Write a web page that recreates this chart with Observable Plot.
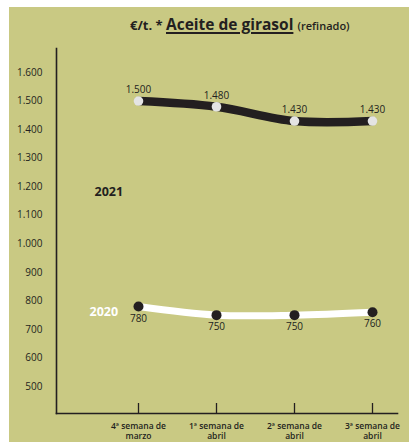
<!DOCTYPE html>
<html>
<head>
<meta charset="utf-8">
<script src="https://cdn.jsdelivr.net/npm/d3@7"></script>
<script src="https://cdn.jsdelivr.net/npm/@observablehq/plot@0.6"></script>
<style>
  html, body { margin: 0; padding: 0; background: #ffffff; }
  #wrap { position: relative; width: 409px; height: 442px; overflow: hidden; background: #ffffff; font-family: "Open Sans", sans-serif; }
  #bg { position: absolute; left: 9px; top: 7px; right: 0; bottom: 0; background: #c9c983; }
  #chart { position: absolute; left: 0; top: 0; }
  #title { position: absolute; left: 130px; top: 13px; white-space: nowrap; color: #231f20; font-weight: 700; }
  #title .a { font-size: 13px; }
  #title .b { font-size: 15.5px; text-decoration: underline; text-decoration-thickness: 1.5px; text-underline-offset: 2px; }
  #title .c { font-size: 11px; font-weight: 600; }
</style>
</head>
<body>
<div id="wrap">
  <div id="bg"></div>
  <div id="title"><span class="a">€/t. * </span><span class="b">Aceite de girasol</span> <span class="c">(refinado)</span></div>
  <div id="chart"></div>
</div>
<script>
const weeks = ["4ª semana de\nmarzo", "1ª semana de\nabril", "2ª semana de\nabril", "3ª semana de\nabril"];
const years = ["2021", "2020"];
const values2021 = [1500, 1480, 1430, 1430];
const values2020 = [780, 750, 750, 760];
const yTicks = [500, 600, 700, 800, 900, 1000, 1100, 1200, 1300, 1400, 1500, 1600];

const loc = d3.formatLocale({decimal: ",", thousands: ".", grouping: [3], currency: ["", "€"]});
const fmt = loc.format(",d");

const d21 = weeks.map((w, i) => ({week: w, value: values2021[i], year: years[0]}));
const d20 = weeks.map((w, i) => ({week: w, value: values2020[i], year: years[1]}));

const ink = "#231f20";

const chart = Plot.plot({
  width: 409,
  height: 442,
  marginTop: 48,
  marginBottom: 29,
  marginLeft: 56,
  marginRight: 12,
  style: {background: "transparent", fontFamily: "'Open Sans', sans-serif", overflow: "visible"},
  x: {type: "point", domain: weeks, range: [137, 372], padding: 0},
  y: {domain: [500, 1600], range: [386, 72]},
  marks: [
    Plot.frame({anchor: "left", stroke: ink, strokeWidth: 1.6}),
    Plot.frame({anchor: "bottom", stroke: ink, strokeWidth: 1.6}),
    Plot.tickX(weeks, {x: d => d, stroke: ink, strokeWidth: 1.3, insetTop: 355}),
    Plot.axisX({tickSize: 0, tickPadding: 8, fontSize: 8.5, fontWeight: 600, fill: ink, lineHeight: 1.2, label: null}),
    Plot.axisY({ticks: yTicks, tickSize: 0, tickPadding: 14, tickFormat: fmt, fontSize: 10, fill: ink, label: null}),
    Plot.line(d21, {x: "week", y: "value", stroke: ink, strokeWidth: 8.5, curve: "catmull-rom"}),
    Plot.line(d20, {x: "week", y: "value", stroke: "#ffffff", strokeWidth: 7, curve: "catmull-rom"}),
    Plot.dot(d21, {x: "week", y: "value", r: 4.8, fill: "#e4e4e4", stroke: "none"}),
    Plot.dot(d20, {x: "week", y: "value", r: 5, fill: ink, stroke: "none"}),
    Plot.text(d21, {x: "week", y: "value", text: d => fmt(d.value), dy: -11, fontSize: 10, fill: ink}),
    Plot.text(d20, {x: "week", y: "value", text: d => fmt(d.value), dy: 12, fontSize: 10, fill: ink}),
    Plot.text([years[0]], {frameAnchor: "top-left", text: d => d, dx: 38, dy: 139, fontSize: 12.5, fontWeight: 700, fill: ink}),
    Plot.text([years[1]], {frameAnchor: "top-left", text: d => d, dx: 33, dy: 259, fontSize: 12.5, fontWeight: 700, fill: "#ffffff"})
  ]
});
document.getElementById("chart").appendChild(chart);
</script>
</body>
</html>
